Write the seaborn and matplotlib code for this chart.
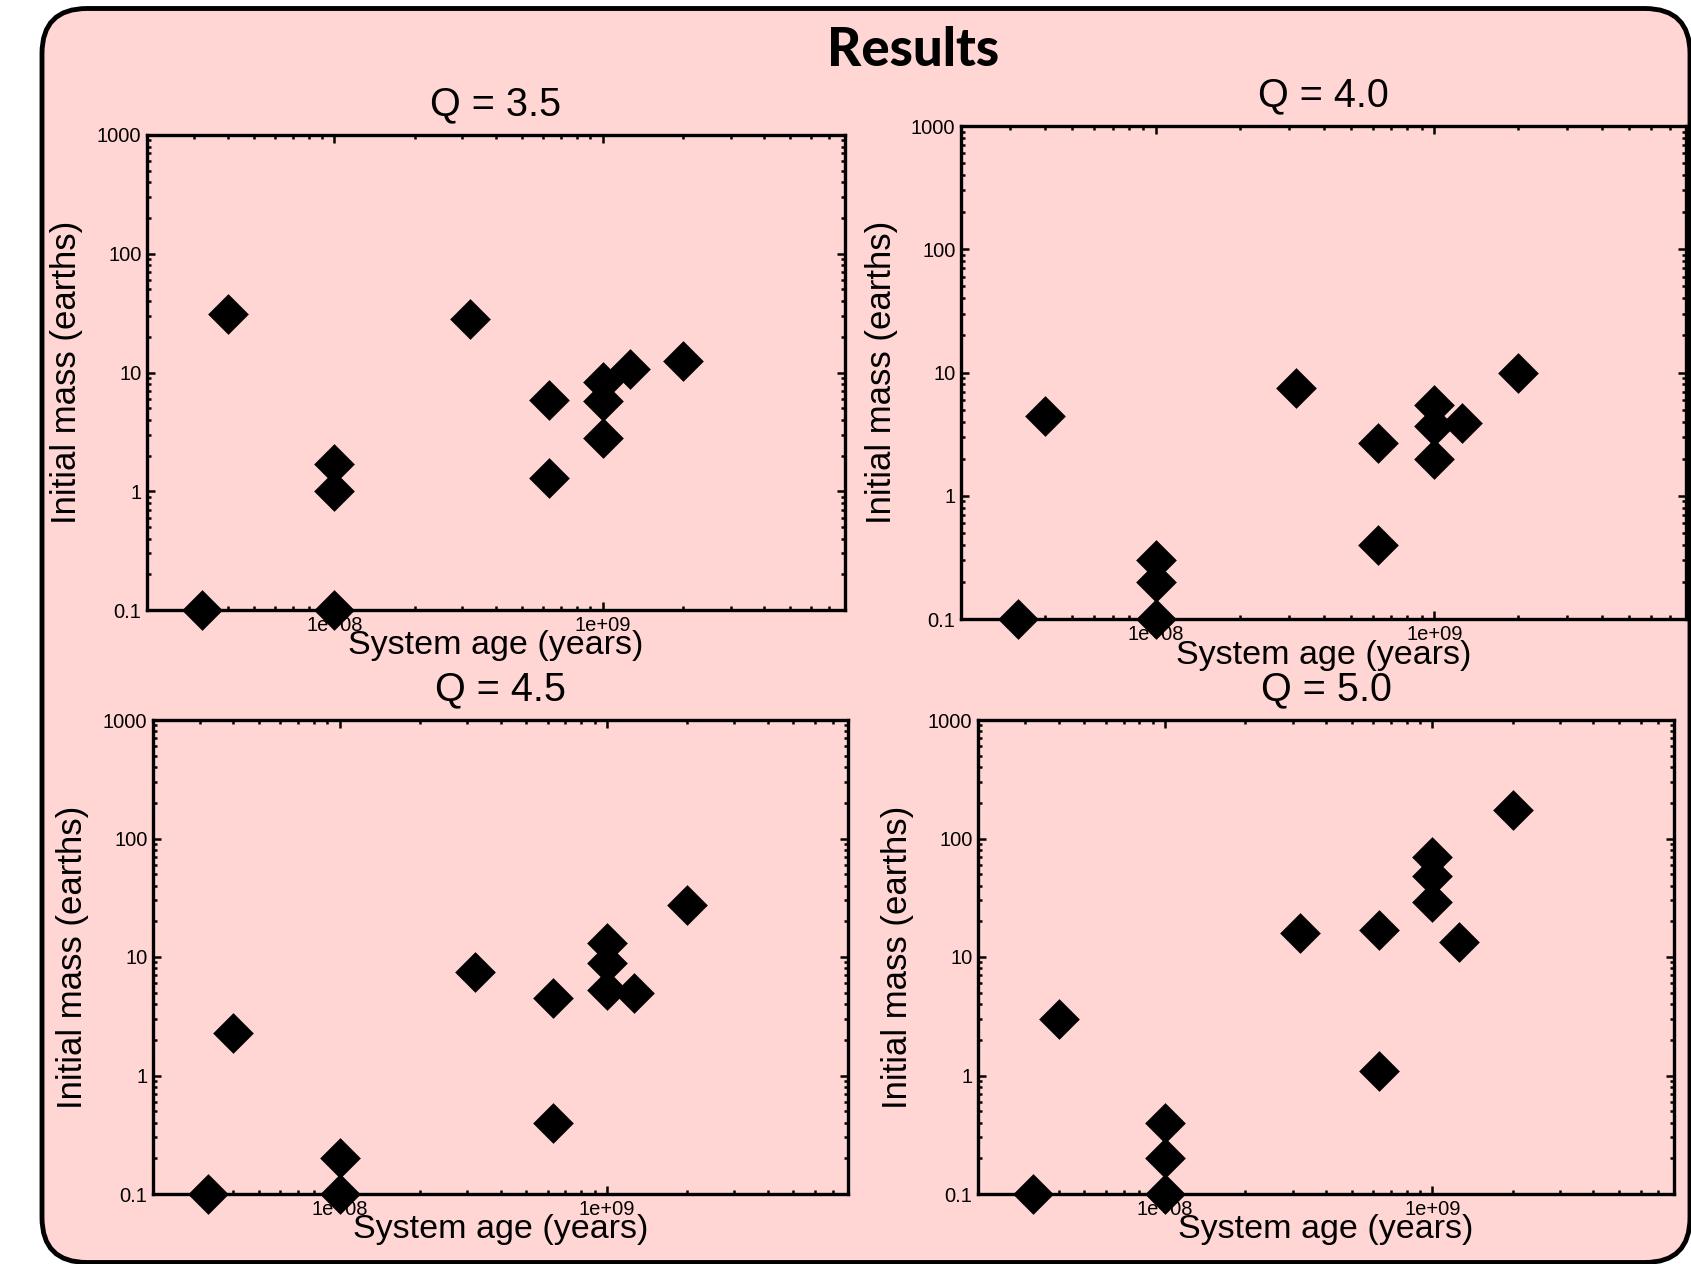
import numpy as np
import pandas as pd
import matplotlib
matplotlib.use('Agg')
import matplotlib.pyplot as plt
import matplotlib.ticker as mticker
from matplotlib.patches import FancyBboxPatch
import seaborn as sns

# values (age in years, initial mass in earths)
q_values = ['3.5', '4.0', '4.5', '5.0']

ages = [3.2e7, 4.0e7, 1e8, 1e8, 1e8, 3.2e8, 6.3e8, 6.3e8, 1e9, 1e9, 1e9, 1.26e9, 2.0e9]
ages_q45 = [3.2e7, 4.0e7, 1e8, 1e8, 3.2e8, 6.3e8, 6.3e8, 1e9, 1e9, 1e9, 1.26e9, 2.0e9]

mass_q35 = [0.1, 31, 1.7, 1.0, 0.1, 28, 5.9, 1.3, 8.3, 5.7, 2.8, 10.8, 12.5]
mass_q40 = [0.1, 4.4, 0.3, 0.2, 0.1, 7.5, 2.7, 0.4, 5.4, 3.7, 2.0, 3.9, 10]
mass_q45 = [0.1, 2.3, 0.2, 0.1, 7.4, 4.5, 0.4, 13.2, 8.9, 5.3, 5.0, 27.5]
mass_q50 = [0.1, 3.0, 0.4, 0.2, 0.1, 16, 17, 1.1, 70, 48, 29, 13.3, 175]

panel_x = [ages, ages, ages_q45, ages]
panel_y = [mass_q35, mass_q40, mass_q45, mass_q50]

sns.set_style('ticks')
plt.rcParams['font.family'] = ['Liberation Sans', 'DejaVu Sans']
plt.rcParams['text.color'] = 'black'
plt.rcParams['axes.labelcolor'] = 'black'
plt.rcParams['axes.edgecolor'] = 'black'
plt.rcParams['xtick.color'] = 'black'
plt.rcParams['ytick.color'] = 'black'

W, H = 1691, 1264
pink = '#ffd6d4'

fig = plt.figure(figsize=(W / 100, H / 100), dpi=100)
fig.patch.set_facecolor('white')

# rounded pink backdrop (inches)
box = FancyBboxPatch((0.42, 0.015), 16.48, 12.54,
                     boxstyle='round,pad=0,rounding_size=0.45',
                     transform=fig.dpi_scale_trans,
                     facecolor=pink, edgecolor='black', linewidth=3.5, zorder=0)
fig.add_artist(box)

fig.text(0.540, 1 - 66 / H, 'Results', ha='center', va='baseline',
         fontsize=38, fontweight='black', family=['Lato', 'DejaVu Sans'])

# axes boxes in pixels: left, top, right, bottom
rects = [(147, 135, 845, 610), (961, 126, 1686, 619),
         (153, 720, 848, 1194), (978, 720, 1674, 1194)]

for i in range(4):
    l, t, r, b = rects[i]
    ax = fig.add_axes([l / W, 1 - b / H, (r - l) / W, (b - t) / H])
    ax.set_facecolor('none')
    df = pd.DataFrame({'age': panel_x[i], 'mass': panel_y[i]})
    sns.scatterplot(data=df, x='age', y='mass', ax=ax, marker='D', s=430,
                    color='black', edgecolor='black', linewidth=0,
                    clip_on=False, zorder=5, legend=False)
    ax.set_xscale('log')
    ax.set_yscale('log')
    ax.set_xlim(2e7, 8e9)
    ax.set_ylim(0.1, 1000)

    ax.xaxis.set_major_locator(mticker.FixedLocator([1e8, 1e9]))
    ax.xaxis.set_major_formatter(mticker.FuncFormatter(lambda v, p: f'{v:.0e}'))
    ax.xaxis.set_minor_locator(mticker.LogLocator(base=10, subs=np.arange(2, 10), numticks=100))
    ax.xaxis.set_minor_formatter(mticker.NullFormatter())
    ax.yaxis.set_major_locator(mticker.LogLocator(base=10, numticks=10))
    ax.yaxis.set_major_formatter(mticker.FuncFormatter(lambda v, p: f'{v:g}'))
    ax.yaxis.set_minor_locator(mticker.LogLocator(base=10, subs=np.arange(2, 10), numticks=100))
    ax.yaxis.set_minor_formatter(mticker.NullFormatter())

    ax.tick_params(which='both', direction='in', top=True, right=True,
                   width=1.8, labelsize=14.5, pad=4)
    ax.tick_params(which='major', length=6)
    ax.tick_params(which='minor', length=3)
    for sp in ax.spines.values():
        sp.set_linewidth(2.4)
        sp.set_color('black')
        sp.set_visible(True)

    ax.set_title(f'Q = {q_values[i]}', fontsize=28.5, pad=14)
    ax.set_xlabel('System age (years)', fontsize=24.5)
    ax.xaxis.set_label_coords(0.5, -0.042)
    ax.set_ylabel('Initial mass (earths)', fontsize=25)
    ax.yaxis.set_label_coords(-80 / (r - l), 0.5)
    ax.yaxis.label.set_va('center')

fig.savefig('out.png', dpi=100, facecolor='white')
